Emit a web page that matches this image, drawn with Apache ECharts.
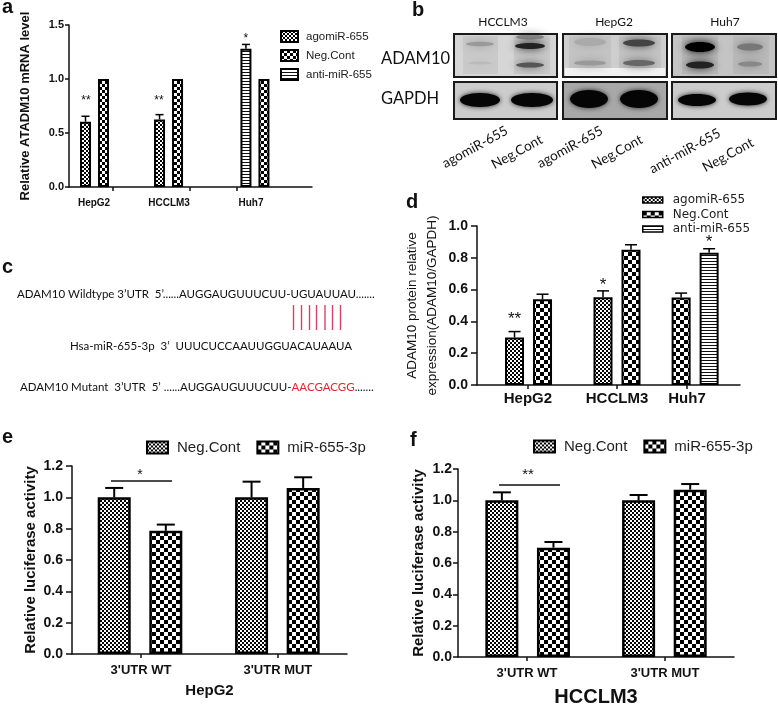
<!DOCTYPE html>
<html>
<head>
<meta charset="utf-8">
<style>html,body{margin:0;padding:0;background:#fff}#c{width:778px;height:706px}</style>
<script src="https://cdn.jsdelivr.net/npm/echarts@6/dist/echarts.min.js"></script>
</head>
<body>
<div id="c"></div>
<script>
// ---------- Panel a values ----------
const aGroups = ['HepG2', 'HCCLM3', 'Huh7'];
const aAgomir = [0.605, 0.625, null];
const aAgomirErr = [0.05, 0.045, null];
const aNeg = [1.0, 1.0, 1.0];
const aNegErr = [0, 0, 0];
const aAnti = [null, null, 1.28];
const aAntiErr = [null, null, 0.04];
const aStars = ['**', '**', '*'];
const aStarLevels = [0.80, 0.80, 1.37];
// ---------- Panel d values ----------
const dGroups = ['HepG2', 'HCCLM3', 'Huh7'];
const dAgomir = [0.298, 0.552, null];
const dAgomirErr = [0.038, 0.04, null];
const dNeg = [0.54, 0.85, 0.55];
const dNegErr = [0.031, 0.032, 0.028];
const dAnti = [null, null, 0.832];
const dAntiErr = [null, null, 0.025];
const dStars = ['**', '*', '*'];
const dStarLevels = [0.415, 0.63, 0.9];
// ---------- Panel e values ----------
const eGroups = ["3'UTR WT", "3'UTR MUT"];
const eNeg = [1.0, 1.0];
const eNegErr = [0.06, 0.10];
const eMir = [0.786, 1.06];
const eMirErr = [0.04, 0.068];
const eBracketLevel = 1.104;
const eStars = ['*'];
const eStarLevels = [1.142];
// ---------- Panel f values ----------
const fGroups = ["3'UTR WT", "3'UTR MUT"];
const fNeg = [1.0, 1.0];
const fNegErr = [0.051, 0.034];
const fMir = [0.698, 1.068];
const fMirErr = [0.036, 0.036];
const fBracketLevel = 1.098;
const fStars = ['**'];
const fStarLevels = [1.161];
// ---------- Panel b: labels ----------
const blotGroups = ['HCCLM3', 'HepG2', 'Huh7'];
const blotLabels = [['agomiR-655', 'Neg.Cont'], ['agomiR-655', 'Neg.Cont'], ['anti-miR-655', 'Neg.Cont']];

const AXIS_FONT = '"Liberation Sans", Arial, sans-serif';
const CAL_FONT = 'Lato, "Noto Sans", sans-serif';

function checker(cell) {
  const c = document.createElement('canvas');
  c.width = c.height = cell * 2;
  const g = c.getContext('2d');
  g.fillStyle = '#fff'; g.fillRect(0, 0, cell * 2, cell * 2);
  g.fillStyle = '#000';
  g.fillRect(0, 0, cell, cell); g.fillRect(cell, cell, cell, cell);
  return { image: c, repeat: 'repeat' };
}
function stripes(on, off) {
  const c = document.createElement('canvas');
  c.width = 4; c.height = on + off;
  const g = c.getContext('2d');
  g.fillStyle = '#fff'; g.fillRect(0, 0, 4, on + off);
  g.fillStyle = '#111'; g.fillRect(0, 0, 4, on);
  return { image: c, repeat: 'repeat' };
}
const fine = checker(2), coarse3 = checker(3), coarse4 = checker(4), hbars = stripes(1, 2);

const grids = [], xAxes = [], yAxes = [], series = [], legends = [];

function panel(p) {
  const idx = grids.length;
  grids.push({ left: p.left, top: p.top, width: p.width, height: p.height, containLabel: false, outerBoundsMode: 'none' });
  const xMax = p.width / p.unit;
  const labelMap = {};
  p.labelPos.forEach((v, i) => { labelMap[v] = p.groups[i]; });
  xAxes.push({
    gridIndex: idx, type: 'value', min: 0, max: xMax, splitLine: { show: false },
    name: p.xName || '', nameLocation: 'middle', nameGap: p.xNameGap || 30,
    nameTextStyle: { fontFamily: AXIS_FONT, fontWeight: 'bold', fontSize: p.xNameSize || 15, color: '#111' },
    axisLine: { show: true, onZero: false, lineStyle: { color: '#111', width: p.axisWidth } },
    axisTick: { show: true, customValues: p.tickPos, length: 4, lineStyle: { color: '#111', width: p.axisWidth } },
    axisLabel: {
      show: true, customValues: p.labelPos, margin: p.labelMargin,
      formatter: v => labelMap[v] || '', color: '#111', fontFamily: AXIS_FONT, fontWeight: 'bold', fontSize: p.xFont
    }
  });
  yAxes.push({
    gridIndex: idx, type: 'value', min: 0, max: p.yMax, interval: p.yStep, splitLine: { show: false },
    name: p.yName, nameLocation: 'middle', nameRotate: 90, nameGap: p.yNameGap,
    nameTextStyle: {
      fontFamily: AXIS_FONT, fontWeight: p.yNameWeight, fontSize: p.yNameSize, color: '#111', lineHeight: p.yNameLH || undefined
    },
    axisLine: { show: true, onZero: false, lineStyle: { color: '#111', width: p.axisWidth } },
    axisTick: { show: true, length: p.yTick, lineStyle: { color: '#111', width: p.axisWidth } },
    axisLabel: {
      margin: p.yMargin, color: '#111', fontFamily: AXIS_FONT, fontWeight: 'bold', fontSize: p.yFont,
      formatter: v => v.toFixed(1)
    }
  });
  p.bars.forEach(b => {
    const pts = [], errs = [];
    b.values.forEach((v, i) => {
      if (v === null) return;
      const x = p.groupPos[i] + b.offsets[i];
      pts.push([x, v]);
      if (b.errs[i]) errs.push([x, v, v + b.errs[i]]);
    });
    series.push({
      type: 'bar', name: b.name, xAxisIndex: idx, yAxisIndex: idx, data: pts,
      barWidth: p.barWidth, barGap: '-100%', silent: true, animation: false,
      itemStyle: { color: b.pattern, borderColor: '#000', borderWidth: p.barBorder }
    });
    series.push({
      type: 'custom', name: p.id + ' ' + b.name + ' error', xAxisIndex: idx, yAxisIndex: idx, data: errs,
      silent: true, animation: false, clip: false, encode: { x: 0, y: [1, 2] }, z: 3,
      renderItem(params, api) {
        const a = api.coord([api.value(0), api.value(1)]);
        const t = api.coord([api.value(0), api.value(2)]);
        const s = { stroke: '#000', lineWidth: p.errWidth, fill: null };
        return {
          type: 'group', children: [
            { type: 'line', shape: { x1: a[0], y1: a[1], x2: t[0], y2: t[1] }, style: s },
            { type: 'line', shape: { x1: t[0] - p.cap, y1: t[1], x2: t[0] + p.cap, y2: t[1] }, style: s }
          ]
        };
      }
    });
  });
  series.push({
    type: 'scatter', name: p.id + ' significance', xAxisIndex: idx, yAxisIndex: idx, silent: true, animation: false,
    symbolSize: 1, itemStyle: { opacity: 0 },
    data: p.stars.map((s, i) => ({
      value: [p.starPos[i], p.starLevels[i]],
      label: { show: true, position: 'inside', formatter: s, fontFamily: AXIS_FONT, fontSize: p.starSize, color: '#111', opacity: 1 }
    }))
  });
  if (p.bracket) {
    series.push({
      type: 'line', name: p.id + ' bracket', xAxisIndex: idx, yAxisIndex: idx, silent: true, animation: false,
      showSymbol: false, symbol: 'none', lineStyle: { color: '#111', width: 1.5 },
      data: p.bracket
    });
  }
  legends.push(Object.assign({
    padding: 0, icon: 'rect', selectedMode: false,
    textStyle: { fontFamily: p.legendFont || AXIS_FONT, fontSize: p.legendSize, color: '#222', padding: [0, 0, 0, p.legendPad] },
    data: p.bars.map(b => ({
      name: b.name,
      itemStyle: { color: b.pattern, borderColor: '#000', borderWidth: p.legendBorder }
    })).sort((u, v) => p.legendOrder.indexOf(u.name) - p.legendOrder.indexOf(v.name))
  }, p.legend));
}

panel({
  id: 'a', left: 69, top: 25, width: 243, height: 162, unit: 18, yMax: 1.5, yStep: 0.5,
  groups: aGroups, groupPos: [1.417, 5.53, 10.33], labelPos: [1.39, 5.56, 10.11], tickPos: [2.44, 6.72, 9.33],
  barWidth: 11, barBorder: 2, axisWidth: 1.5, errWidth: 1.5, cap: 4, xFont: 10, yFont: 11, yTick: 4, yMargin: 5, labelMargin: 11,
  yName: 'Relative ATADM10 mRNA level', yNameGap: 37, yNameSize: 13, yNameWeight: 'bold',
  bars: [
    { name: 'agomiR-655', values: aAgomir, errs: aAgomirErr, offsets: [-0.5, -0.5, 0], pattern: fine },
    { name: 'Neg.Cont', values: aNeg, errs: aNegErr, offsets: [0.5, 0.5, 0.5], pattern: coarse3 },
    { name: 'anti-miR-655', values: aAnti, errs: aAntiErr, offsets: [0, 0, -0.5], pattern: hbars }
  ],
  stars: aStars, starLevels: aStarLevels, starPos: [0.94, 5.0, 9.83], starSize: 12,
  legendOrder: ['agomiR-655', 'Neg.Cont', 'anti-miR-655'], legendSize: 11.5, legendPad: 3, legendBorder: 2,
  legend: { left: 280, top: 30, orient: 'vertical', itemWidth: 17, itemHeight: 11, itemGap: 6 }
});
panel({
  id: 'd', left: 477, top: 226, width: 263, height: 159, unit: 28, yMax: 1.0, yStep: 0.2,
  groups: dGroups, groupPos: [1.84, 5.0, 7.79], labelPos: [1.82, 5.0, 7.5], tickPos: [1.82, 5.0, 7.5],
  barWidth: 19, barBorder: 2, axisWidth: 1.5, errWidth: 1.5, cap: 6, xFont: 15, yFont: 14, yTick: 6, yMargin: 9, labelMargin: 6,
  yName: 'ADAM10 protein relative\nexpression(ADAM10/GAPDH)', yNameGap: 35, yNameSize: 13.5, yNameWeight: 'normal', yNameLH: 20,
  bars: [
    { name: 'agomiR-655', values: dAgomir, errs: dAgomirErr, offsets: [-0.5, -0.5, 0], pattern: fine },
    { name: 'Neg.Cont', values: dNeg, errs: dNegErr, offsets: [0.5, 0.5, -0.5], pattern: coarse4 },
    { name: 'anti-miR-655', values: dAnti, errs: dAntiErr, offsets: [0, 0, 0.5], pattern: hbars }
  ],
  stars: dStars, starLevels: dStarLevels, starPos: [1.34, 4.5, 8.29], starSize: 17,
  legendOrder: ['agomiR-655', 'Neg.Cont', 'anti-miR-655'], legendFont: '"DejaVu Sans", sans-serif', legendSize: 12, legendPad: 5, legendBorder: 1.5,
  legend: { left: 642, top: 194, orient: 'vertical', itemWidth: 20, itemHeight: 6, itemGap: 2.5 }
});
panel({
  id: 'e', left: 72, top: 466, width: 275, height: 188, unit: 51.6, yMax: 1.2, yStep: 0.2,
  xName: 'HepG2', xNameGap: 29, xNameSize: 15,
  groups: eGroups, groupPos: [1.318, 3.98], labelPos: [1.337, 3.99], tickPos: [1.337, 3.99],
  barWidth: 33, barBorder: 2.5, axisWidth: 1.5, errWidth: 2, cap: 9, xFont: 13, yFont: 14, yTick: 6, yMargin: 9, labelMargin: 10,
  yName: 'Relative luciferase activity', yNameGap: 33.5, yNameSize: 15, yNameWeight: 'bold',
  bars: [
    { name: 'Neg.Cont', values: eNeg, errs: eNegErr, offsets: [-0.5, -0.5], pattern: fine },
    { name: 'miR-655-3p', values: eMir, errs: eMirErr, offsets: [0.5, 0.5], pattern: coarse4 }
  ],
  bracket: [[0.756, eBracketLevel], [1.938, eBracketLevel]],
  stars: eStars, starLevels: eStarLevels, starPos: [1.318], starSize: 14,
  legendOrder: ['Neg.Cont', 'miR-655-3p'], legendSize: 15, legendPad: 4, legendBorder: 2,
  legend: { left: 146, top: 440, orient: 'horizontal', itemWidth: 21, itemHeight: 12, itemGap: 16 }
});
panel({
  id: 'f', left: 458, top: 469, width: 276, height: 188, unit: 51.6, yMax: 1.2, yStep: 0.2,
  xName: 'HCCLM3', xNameGap: 30, xNameSize: 20,
  groups: fGroups, groupPos: [1.35, 4.0], labelPos: [1.337, 4.01], tickPos: [1.337, 4.01],
  barWidth: 33, barBorder: 2.5, axisWidth: 1.5, errWidth: 2, cap: 9, xFont: 13, yFont: 14, yTick: 5, yMargin: 6, labelMargin: 10,
  yName: 'Relative luciferase activity', yNameGap: 31.5, yNameSize: 15, yNameWeight: 'bold',
  bars: [
    { name: 'Neg.Cont', values: fNeg, errs: fNegErr, offsets: [-0.5, -0.5], pattern: fine },
    { name: 'miR-655-3p', values: fMir, errs: fMirErr, offsets: [0.5, 0.5], pattern: coarse4 }
  ],
  bracket: [[0.795, fBracketLevel], [1.977, fBracketLevel]],
  stars: fStars, starLevels: fStarLevels, starPos: [1.357], starSize: 15,
  legendOrder: ['Neg.Cont', 'miR-655-3p'], legendSize: 15, legendPad: 4, legendBorder: 2,
  legend: { left: 533, top: 439, orient: 'horizontal', itemWidth: 21, itemHeight: 12, itemGap: 16 }
});

// ---------- Decorations: panel letters, blot image, sequences ----------
function text(str, x, y, font, opts) {
  opts = opts || {};
  return {
    type: 'text', x, y, rotation: opts.rotation || 0, silent: true,
    style: Object.assign({ text: str, font, fill: opts.fill || '#111', align: opts.align || 'left', verticalAlign: 'middle' }, opts.extra || {})
  };
}
const letterFont = 'bold 20px ' + AXIS_FONT;
const g = [
  text('a', 2, 7, letterFont), text('b', 412, 10, letterFont), text('c', 2, 267, letterFont),
  text('d', 406, 202, letterFont), text('e', 2, 437, letterFont), text('f', 410, 440, letterFont)
];
// Blot frames
const frames = [[454, 103], [563, 104], [672, 104]];
const bandSets = [
  { smear: [[463, 35], [514, 36]],
    up: [[480, 44, 14, 2.2, '#999'], [480, 63, 12, 1.5, '#bbb'], [530, 37, 14, 2.5, '#888'], [530, 46, 15, 3, '#222'], [530, 65, 14, 2.6, '#555']],
    low: [[480, 100, 20, 7], [532, 100, 21, 7]] },
  { smear: [[569, 42], [619, 42]],
    up: [[590, 42, 16, 4, '#aaa'], [590, 63, 16, 2.5, '#999'], [639, 43, 16, 3.5, '#444'], [639, 63, 16, 3, '#666']],
    low: [[589, 99, 19, 9], [639, 99, 19, 9]] },
  { smear: [[682, 36], [733, 36]],
    up: [[700, 47, 15, 5, '#000'], [700, 65, 14, 3.5, '#222'], [750, 47, 13, 3.5, '#777'], [750, 64, 12, 2.6, '#888']],
    low: [[697, 100, 19, 6], [748, 99, 19, 6.5]] }
];
frames.forEach((f, i) => {
  const x = f[0], w = f[1];
  const bgU = i === 1 ? '#cfcfcf' : (i === 2 ? '#c4c4c4' : '#d6d6d6');
  g.push({ type: 'rect', silent: true, shape: { x, y: 34, width: w, height: 43 }, style: { fill: bgU } });
  g.push({ type: 'rect', silent: true, shape: { x, y: 82, width: w, height: 37 }, style: { fill: i === 1 ? '#a8a8a8' : '#cccccc' } });
  bandSets[i].smear.forEach(s => g.push({
    type: 'rect', silent: true, shape: { x: s[0], y: 36, width: s[1], height: 38 }, style: { fill: 'rgba(90,90,90,0.09)' }
  }));
  if (i === 1) g.push({ type: 'rect', silent: true, shape: { x: x + 2, y: 68, width: w - 4, height: 8 }, style: { fill: '#f2f2f2' } });
  bandSets[i].up.forEach(b => g.push({
    type: 'ellipse', silent: true, shape: { cx: b[0], cy: b[1], rx: b[2], ry: b[3] },
    style: { fill: b[4], shadowBlur: 8, shadowColor: b[4] }
  }));
  bandSets[i].low.forEach(b => g.push({
    type: 'ellipse', silent: true, shape: { cx: b[0], cy: b[1], rx: b[2], ry: b[3] },
    style: { fill: '#050505', shadowBlur: 5, shadowColor: '#222' }
  }));
  [[34, 43], [82, 37]].forEach(r => g.push({
    type: 'rect', silent: true, shape: { x, y: r[0], width: w, height: r[1] },
    style: { fill: 'none', stroke: '#1a1a1a', lineWidth: 2 }
  }));
});
const blotTopFont = '12px ' + CAL_FONT, blotFont = '13.5px ' + CAL_FONT;
[503, 614, 725].forEach((x, i) => g.push(text(blotGroups[i], x, 22, blotTopFont, { align: 'center' })));
g.push(text('ADAM10', 381, 59, '16.5px ' + CAL_FONT), text('GAPDH', 381, 99, '16.5px ' + CAL_FONT));
[[475, 147], [517, 152], [570, 147], [617, 152], [685, 151], [728, 155]].forEach((pos, i) => {
  g.push(text(blotLabels[Math.floor(i / 2)][i % 2], pos[0], pos[1], blotFont, { align: 'center', rotation: 0.5 }));
});
// Sequence panel
const seqFont = '11.5px ' + CAL_FONT;
g.push(text('ADAM10 Wildtype 3’UTR  5’......AUGGAUGUUUCUU-UGUAUUAU.......', 17, 294, seqFont));
g.push(text('Hsa-miR-655-3p  3’  UUUCUCCAAUUGGUACAUAAUA', 70, 346, seqFont));
g.push(text('ADAM10 Mutant  3’UTR  5’ ......AUGGAUGUUUCUU-{r|AACGACGG}.......', 20, 387, seqFont, {
  extra: { rich: { r: { fill: '#e3262e', font: seqFont } } }
}));
[293.5, 301.5, 309.5, 316.5, 325, 332.5, 340.5].forEach(x => g.push({
  type: 'line', silent: true, shape: { x1: x, y1: 305, x2: x, y2: 330 }, style: { stroke: '#d8426a', lineWidth: 1.4 }
}));

echarts.init(document.getElementById('c'), null, { renderer: 'canvas' }).setOption({
  backgroundColor: '#fff', animation: false, tooltip: { show: false },
  grid: grids, xAxis: xAxes, yAxis: yAxes, legend: legends, series, graphic: { elements: g }
});
</script>
</body>
</html>
